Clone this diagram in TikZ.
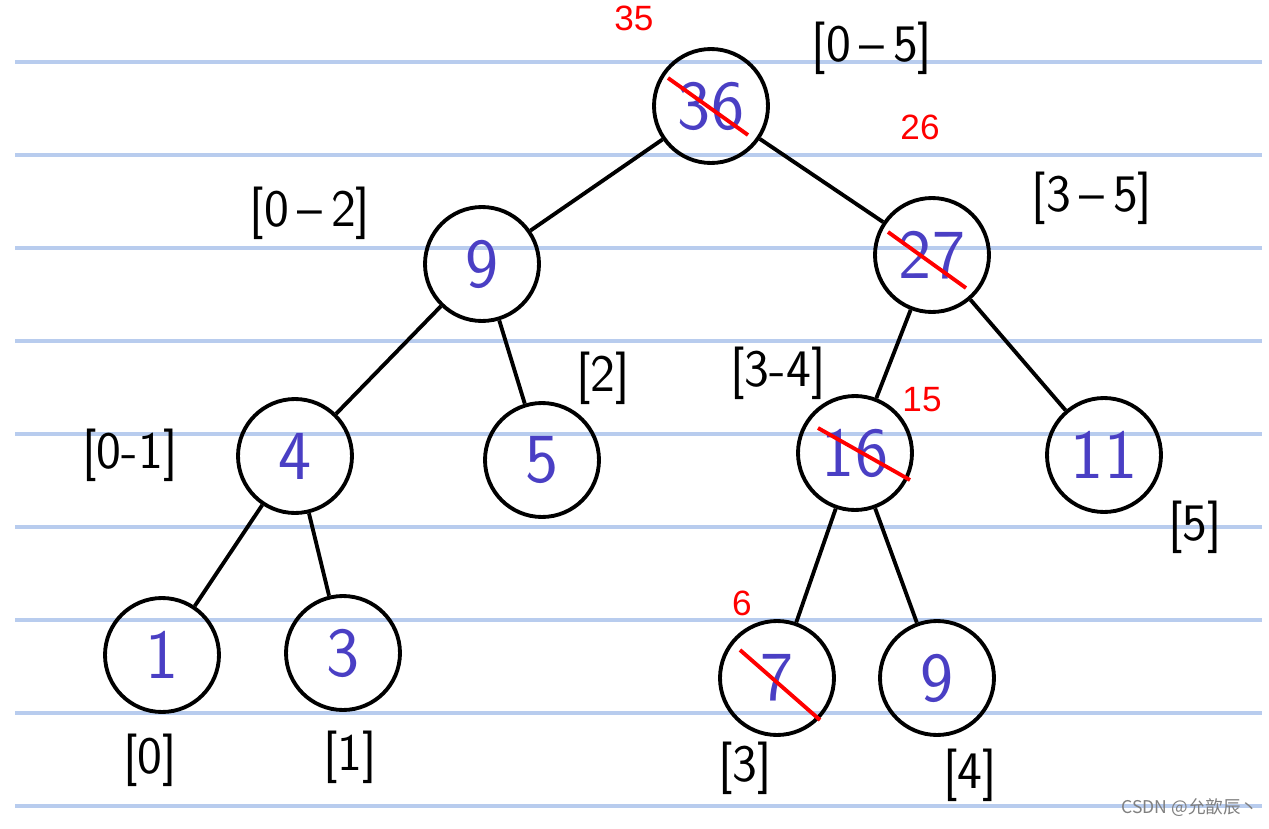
\documentclass[tikz,border=0pt]{standalone}
\usepackage{fontspec}
\setmainfont{Liberation Sans}
\newfontfamily\cjk{Noto Sans CJK SC}
\definecolor{digit}{HTML}{4A3FC4}
\definecolor{ruled}{HTML}{B8CCEE}
\begin{document}
\begin{tikzpicture}[x=0.02cm,y=-0.02cm,
  nd/.style={circle,draw=black,line width=2.2pt,minimum size=2.28cm,inner sep=0pt,text=digit,font=\sffamily\fontsize{40}{40}\selectfont},
  lab/.style={font=\sffamily\fontsize{30}{30}\selectfont},
  rednum/.style={text=red,font=\fontsize{20}{20}\selectfont},
  edge/.style={line width=2.2pt},
  strike/.style={draw=red,line width=2.2pt}]
\useasboundingbox (0,0) rectangle (1269,829);
\fill[white] (0,0) rectangle (1269,829);
\foreach \y in {62,155,248,341,434,527,620,713,806}
  \draw[ruled,line width=2pt] (15,\y) -- (1262,\y);
\node[nd] (a) at (711,106) {36};
\node[nd] (b) at (482,264) {9};
\node[nd] (c) at (932,255) {27};
\node[nd] (d) at (295,456) {4};
\node[nd] (e) at (542,460) {5};
\node[nd] (f) at (855,453) {16};
\node[nd] (g) at (1104,455) {11};
\node[nd] (h) at (162,655) {1};
\node[nd] (i) at (343,653) {3};
\node[nd] (j) at (777,678) {7};
\node[nd] (k) at (937,678) {9};
\foreach \u/\v in {a/b,a/c,b/d,b/e,c/f,c/g,d/h,d/i,f/j,f/k}
  \draw[edge] (\u) -- (\v);
\node[lab] (l1) at (872,48) {[0\,--\,5]};
\node[lab] (l2) at (310,213) {[0\,--\,2]};
\node[lab] (l3) at (1092,198) {[3\,--\,5]};
\node[lab] (l4) at (603,378) {[2]};
\node[lab] (l5) at (778,373) {[3-4]};
\node[lab] (l6) at (130,455) {[0-1]};
\node[lab] (l7) at (1195,527) {[5]};
\node[lab] (l8) at (150,760) {[0]};
\node[lab] (l9) at (350,757) {[1]};
\node[lab] (l10) at (745,768) {[3]};
\node[lab] (l11) at (970,775) {[4]};
\node[rednum] (r1) at (634,18) {35};
\node[rednum] (r2) at (920,127) {26};
\node[rednum] (r3) at (922,400) {15};
\node[rednum] (r4) at (742,603) {6};
\draw[strike] (668,78) -- (748,135);
\draw[strike] (888,232) -- (966,288);
\draw[strike] (818,428) -- (910,480);
\draw[strike] (740,650) -- (820,720);
\node[text=gray,font=\cjk\fontsize{10}{10}\selectfont] (w) at (1190,808) {CSDN @允歆辰丶};
\end{tikzpicture}
\end{document}
